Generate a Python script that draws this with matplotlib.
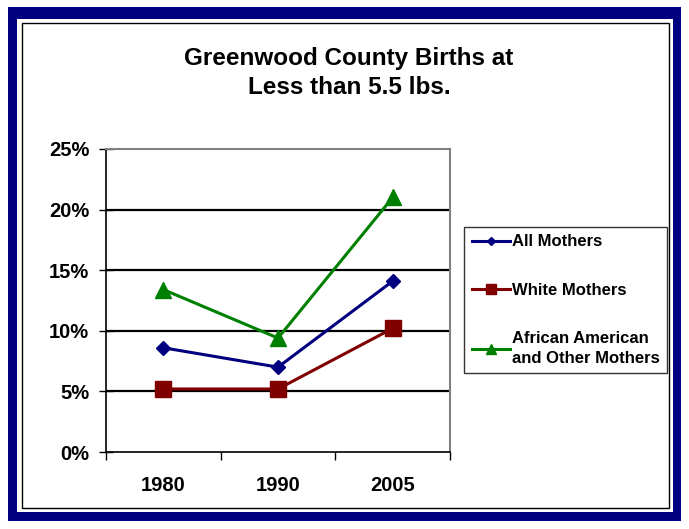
import matplotlib
matplotlib.use("Agg")
import matplotlib.pyplot as plt
from matplotlib.patches import Rectangle
from matplotlib.ticker import FuncFormatter

plt.rcParams['font.family'] = ['Liberation Sans', 'DejaVu Sans']

years = ['1980', '1990', '2005']
all_mothers = [8.6, 7.0, 14.1]
white_mothers = [5.2, 5.2, 10.2]
afam_mothers = [13.4, 9.4, 21.0]
y_ticks = [0, 5, 10, 15, 20, 25]

fig = plt.figure(figsize=(6.89, 5.29), dpi=100)
W, H = 689, 529

# navy outer frame, white panel, thin black border
def px_rect(x0, y0, x1, y1, **kw):
    fig.patches.append(Rectangle((x0 / W, 1 - y1 / H), (x1 - x0) / W, (y1 - y0) / H,
                                 transform=fig.transFigure, **kw))

px_rect(8, 7, 681, 521, facecolor='#000080', edgecolor='none', zorder=-3)
px_rect(17, 19, 673, 512, facecolor='white', edgecolor='none', zorder=-2)
px_rect(22, 23, 669, 508, facecolor='none', edgecolor='black', linewidth=1, zorder=-1)

fig.text(349 / W, 1 - 73 / H, 'Greenwood County Births at\nLess than 5.5 lbs.',
         ha='center', va='center', fontsize=17.5, fontweight='bold', linespacing=1.38)

ax = fig.add_axes([106 / W, 1 - 452 / H, 344 / W, 303 / H])
ax.set_zorder(5)
x = list(range(len(years)))

ax.plot(x, all_mothers, color='#000080', lw=2.2, marker='D', ms=7.6,
        label='All Mothers', zorder=5)
ax.plot(x, white_mothers, color='#800000', lw=2.2, marker='s', ms=11.5,
        label='White Mothers', zorder=4)
ax.plot(x, afam_mothers, color='#008000', lw=2.2, marker='^', ms=12,
        label='African American\nand Other Mothers', zorder=3)

for v in y_ticks[1:-1]:
    ax.axhline(v, color='black', lw=1.6, zorder=1)

ax.set_xlim(-0.5, len(years) - 0.5)
ax.set_ylim(0, 25)
ax.set_yticks(y_ticks)
ax.yaxis.set_major_formatter(FuncFormatter(lambda v, p: f'{v:.0f}%'))
ax.set_xticks([i - 0.5 for i in range(len(years) + 1)])
ax.set_xticklabels([])
ax.set_xticks(x, minor=True)
ax.set_xticklabels(years, minor=True)
ax.tick_params(axis='x', which='major', direction='out', length=6, width=1)
ax.tick_params(axis='x', which='minor', length=0, pad=17, labelsize=14.5)
ax.tick_params(axis='y', direction='inout', length=10, width=1, pad=7, labelsize=14.5)
for lab in ax.get_xticklabels(minor=True) + ax.get_yticklabels():
    lab.set_fontweight('bold')

ax.spines['left'].set_color('black')
ax.spines['left'].set_linewidth(1.2)
ax.spines['bottom'].set_color('black')
ax.spines['bottom'].set_linewidth(1.2)
for s in ('top', 'right'):
    ax.spines[s].set_color('#808080')
    ax.spines[s].set_linewidth(1.5)

leg = fig.legend(loc='upper left', bbox_to_anchor=(464 / W, 1 - 227 / H),
                 frameon=True, fancybox=False, edgecolor='black',
                 prop={'weight': 'bold', 'size': 12}, handlelength=2.3,
                 handletextpad=0.1, labelspacing=2.0, borderaxespad=0,
                 borderpad=0.45, markerscale=0.6)
leg.get_frame().set_linewidth(1)
leg.set_zorder(6)
for t in leg.get_texts():
    t.set_linespacing(1.4)

fig.savefig('out.png', dpi=100)
